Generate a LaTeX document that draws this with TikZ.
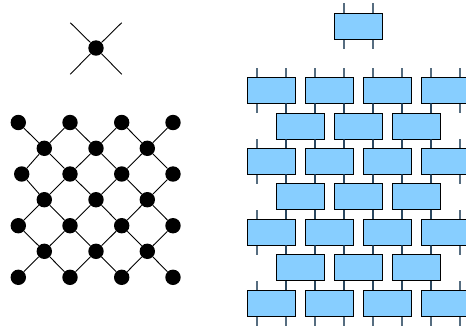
\documentclass[tikz,border=0pt]{standalone}
\usepackage{tikz}
\usetikzlibrary{positioning}
\definecolor{gatefill}{RGB}{135,206,255}
\definecolor{legcolor}{RGB}{30,60,85}
\tikzset{
	dot/.style={circle,fill=black,inner sep=0pt,minimum size=15.4pt},
	gate/.style={rectangle,draw=black,fill=gatefill,line width=1pt,inner sep=0pt,minimum width=48.4pt,minimum height=26pt},
	wire/.style={line width=.9pt,black},
	leg/.style={line width=1.6pt,legcolor,opacity=.75}
}
\begin{document}
\begin{tikzpicture}[x=1pt,y=-1pt]
		\useasboundingbox (0,0) rectangle (466,325);
		% single vertex
		\node[dot] (c) at (96,48) {};
		\coordinate (c1) at (70.3,22.7);
		\coordinate (c2) at (121.7,22.7);
		\coordinate (c3) at (70.3,74.3);
		\coordinate (c4) at (121.7,74.3);
		\foreach \to in {c1,c2,c3,c4}
		\draw[wire] (c) -- (\to);
		
		% lattice of vertices
		\node[dot] (n1) at (18.3,122.5) {};
		\node[dot] (n2) at (70,122.5) {};
		\node[dot] (n3) at (121.7,122.5) {};
		\node[dot] (n4) at (173,122.5) {};
		\node[dot] (n5) at (44.3,148.3) {};
		\node[dot] (n6) at (96,148.3) {};
		\node[dot] (n7) at (147.3,148.3) {};
		\node[dot] (n8) at (21.7,174) {};
		\node[dot] (n9) at (70,174) {};
		\node[dot] (n10) at (121.7,174) {};
		\node[dot] (n11) at (173,174) {};
		\node[dot] (n12) at (44.3,199.7) {};
		\node[dot] (n13) at (96,199.7) {};
		\node[dot] (n14) at (147.3,199.7) {};
		\node[dot] (n15) at (18.3,225.7) {};
		\node[dot] (n16) at (70,225.7) {};
		\node[dot] (n17) at (121.7,225.7) {};
		\node[dot] (n18) at (173,225.7) {};
		\node[dot] (n19) at (44.3,251.3) {};
		\node[dot] (n20) at (96,251.3) {};
		\node[dot] (n21) at (147.3,251.3) {};
		\node[dot] (n22) at (18.3,277.3) {};
		\node[dot] (n23) at (70,277.3) {};
		\node[dot] (n24) at (121.7,277.3) {};
		\node[dot] (n25) at (173,277.3) {};
		
		\foreach \from/\to in 
		{n1/n5, n2/n5, n2/n6, n3/n6, n3/n7, n4/n7,
		n5/n8, n5/n9, n6/n9, n6/n10, n7/n10, n7/n11,
		n8/n12, n9/n12, n9/n13, n10/n13, n10/n14, n11/n14,
		n12/n15, n12/n16, n13/n16, n13/n17, n14/n17, n14/n18,
		n15/n19, n16/n19, n16/n20, n17/n20, n17/n21, n18/n21,
		n19/n22, n19/n23, n20/n23, n20/n24, n21/n24, n21/n25}
		\draw[wire] (\from) -- (\to);
		
		% gates, each with four legs
		\foreach \g/\x/\y in 
		{t/358.5/26,
		a1/271.5/90.3, a2/329.5/90.3, a3/387.5/90.3, a4/445.5/90.3,
		b1/300.5/126, b2/358.5/126, b3/416.5/126,
		d1/271.5/161.3, d2/329.5/161.3, d3/387.5/161.3, d4/445.5/161.3,
		e1/300.5/196.8, e2/358.5/196.8, e3/416.5/196.8,
		f1/271.5/232.3, f2/329.5/232.3, f3/387.5/232.3, f4/445.5/232.3,
		h1/300.5/267.7, h2/358.5/267.7, h3/416.5/267.7,
		k1/271.5/303.3, k2/329.5/303.3, k3/387.5/303.3, k4/445.5/303.3}
		{
		\node[gate] (\g) at (\x,\y) {};
		\coordinate (\g-nw) at (\x-14.5,\y-22.7);
		\coordinate (\g-ne) at (\x+14.5,\y-22.7);
		\coordinate (\g-sw) at (\x-14.5,\y+22.7);
		\coordinate (\g-se) at (\x+14.5,\y+22.7);
		\draw[leg] (\g.north -| \g-nw) -- (\g-nw);
		\draw[leg] (\g.north -| \g-ne) -- (\g-ne);
		\draw[leg] (\g.south -| \g-sw) -- (\g-sw);
		\draw[leg] (\g.south -| \g-se) -- (\g-se);
		}
\end{tikzpicture}
\end{document}
